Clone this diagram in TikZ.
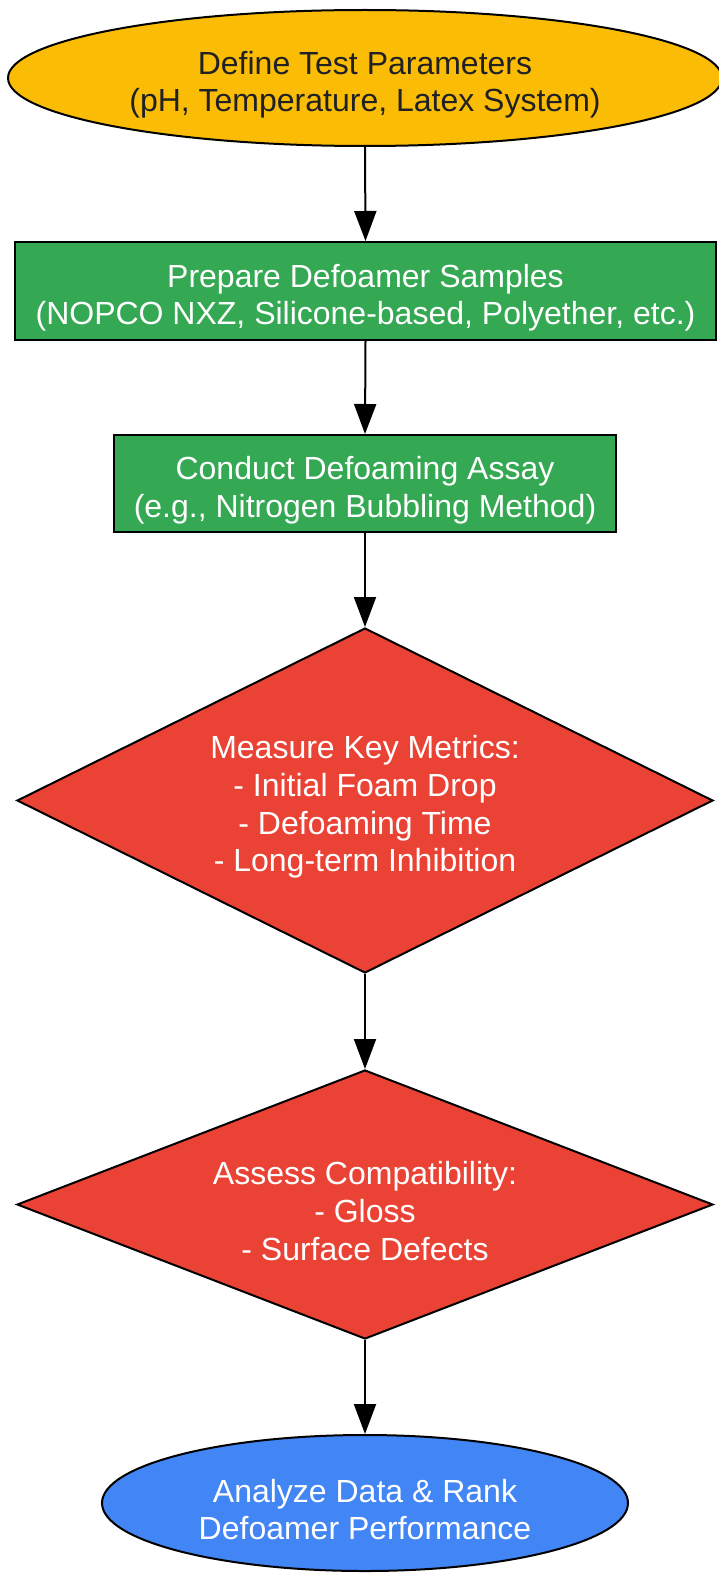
\documentclass[tikz,border=0pt]{standalone}
\usepackage{fontspec}
\setmainfont{Liberation Sans}
\usetikzlibrary{shapes.geometric,arrows.meta}
\definecolor{gyellow}{HTML}{FBBC05}
\definecolor{ggreen}{HTML}{34A853}
\definecolor{gred}{HTML}{EA4335}
\definecolor{gblue}{HTML}{4285F4}
\definecolor{darktext}{HTML}{202124}
\newcommand{\toplift}{\rule{0pt}{36.4pt}}
\begin{document}
\begin{tikzpicture}[x=1pt,y=-1pt,
  base/.style={draw=black, line width=2pt, align=center, inner sep=0pt,
    font=\fontsize{32}{37.7}\selectfont},
  startnode/.style={base, ellipse, fill=gyellow, text=darktext},
  endnode/.style={base, ellipse, fill=gblue, text=white},
  procbox/.style={base, rectangle, fill=ggreen, text=white},
  decbox/.style={base, diamond, fill=gred, text=white},
  flow/.style={line width=2pt, -{Triangle[length=30pt,width=22pt]}}
]
\useasboundingbox (0,0) rectangle (719,1573);
\node[startnode, minimum width=714pt, minimum height=136pt] (define) at (365,78)
  {\toplift Define Test Parameters\\(pH, Temperature, Latex System)};
\node[procbox, minimum width=701pt, minimum height=98pt] (prepare) at (365.5,291)
  {\toplift Prepare Defoamer Samples\\(NOPCO NXZ, Silicone-based, Polyether, etc.)};
\node[procbox, minimum width=502pt, minimum height=97pt] (assay) at (365,483.5)
  {\toplift Conduct Defoaming Assay\\(e.g., Nitrogen Bubbling Method)};
\node[decbox, aspect=2, minimum width=696pt, minimum height=345pt] (measure) at (365,800.5)
  {\toplift Measure Key Metrics:\\- Initial Foam Drop\\- Defoaming Time\\- Long-term Inhibition};
\node[decbox, aspect=2.6, minimum width=696pt, minimum height=269pt] (assess) at (365,1204.5)
  {\toplift Assess Compatibility:\\- Gloss\\- Surface Defects};
\node[endnode, minimum width=526pt, minimum height=136pt] (analyze) at (365,1503)
  {\toplift Analyze Data \& Rank\\Defoamer Performance};
\draw[flow] (define.south) -- (prepare.north);
\draw[flow] (prepare.south) -- (assay.north);
\draw[flow] (assay.south) -- (measure.north);
\draw[flow] (measure.south) -- (assess.north);
\draw[flow] (assess.south) -- (analyze.north);
\end{tikzpicture}
\end{document}
